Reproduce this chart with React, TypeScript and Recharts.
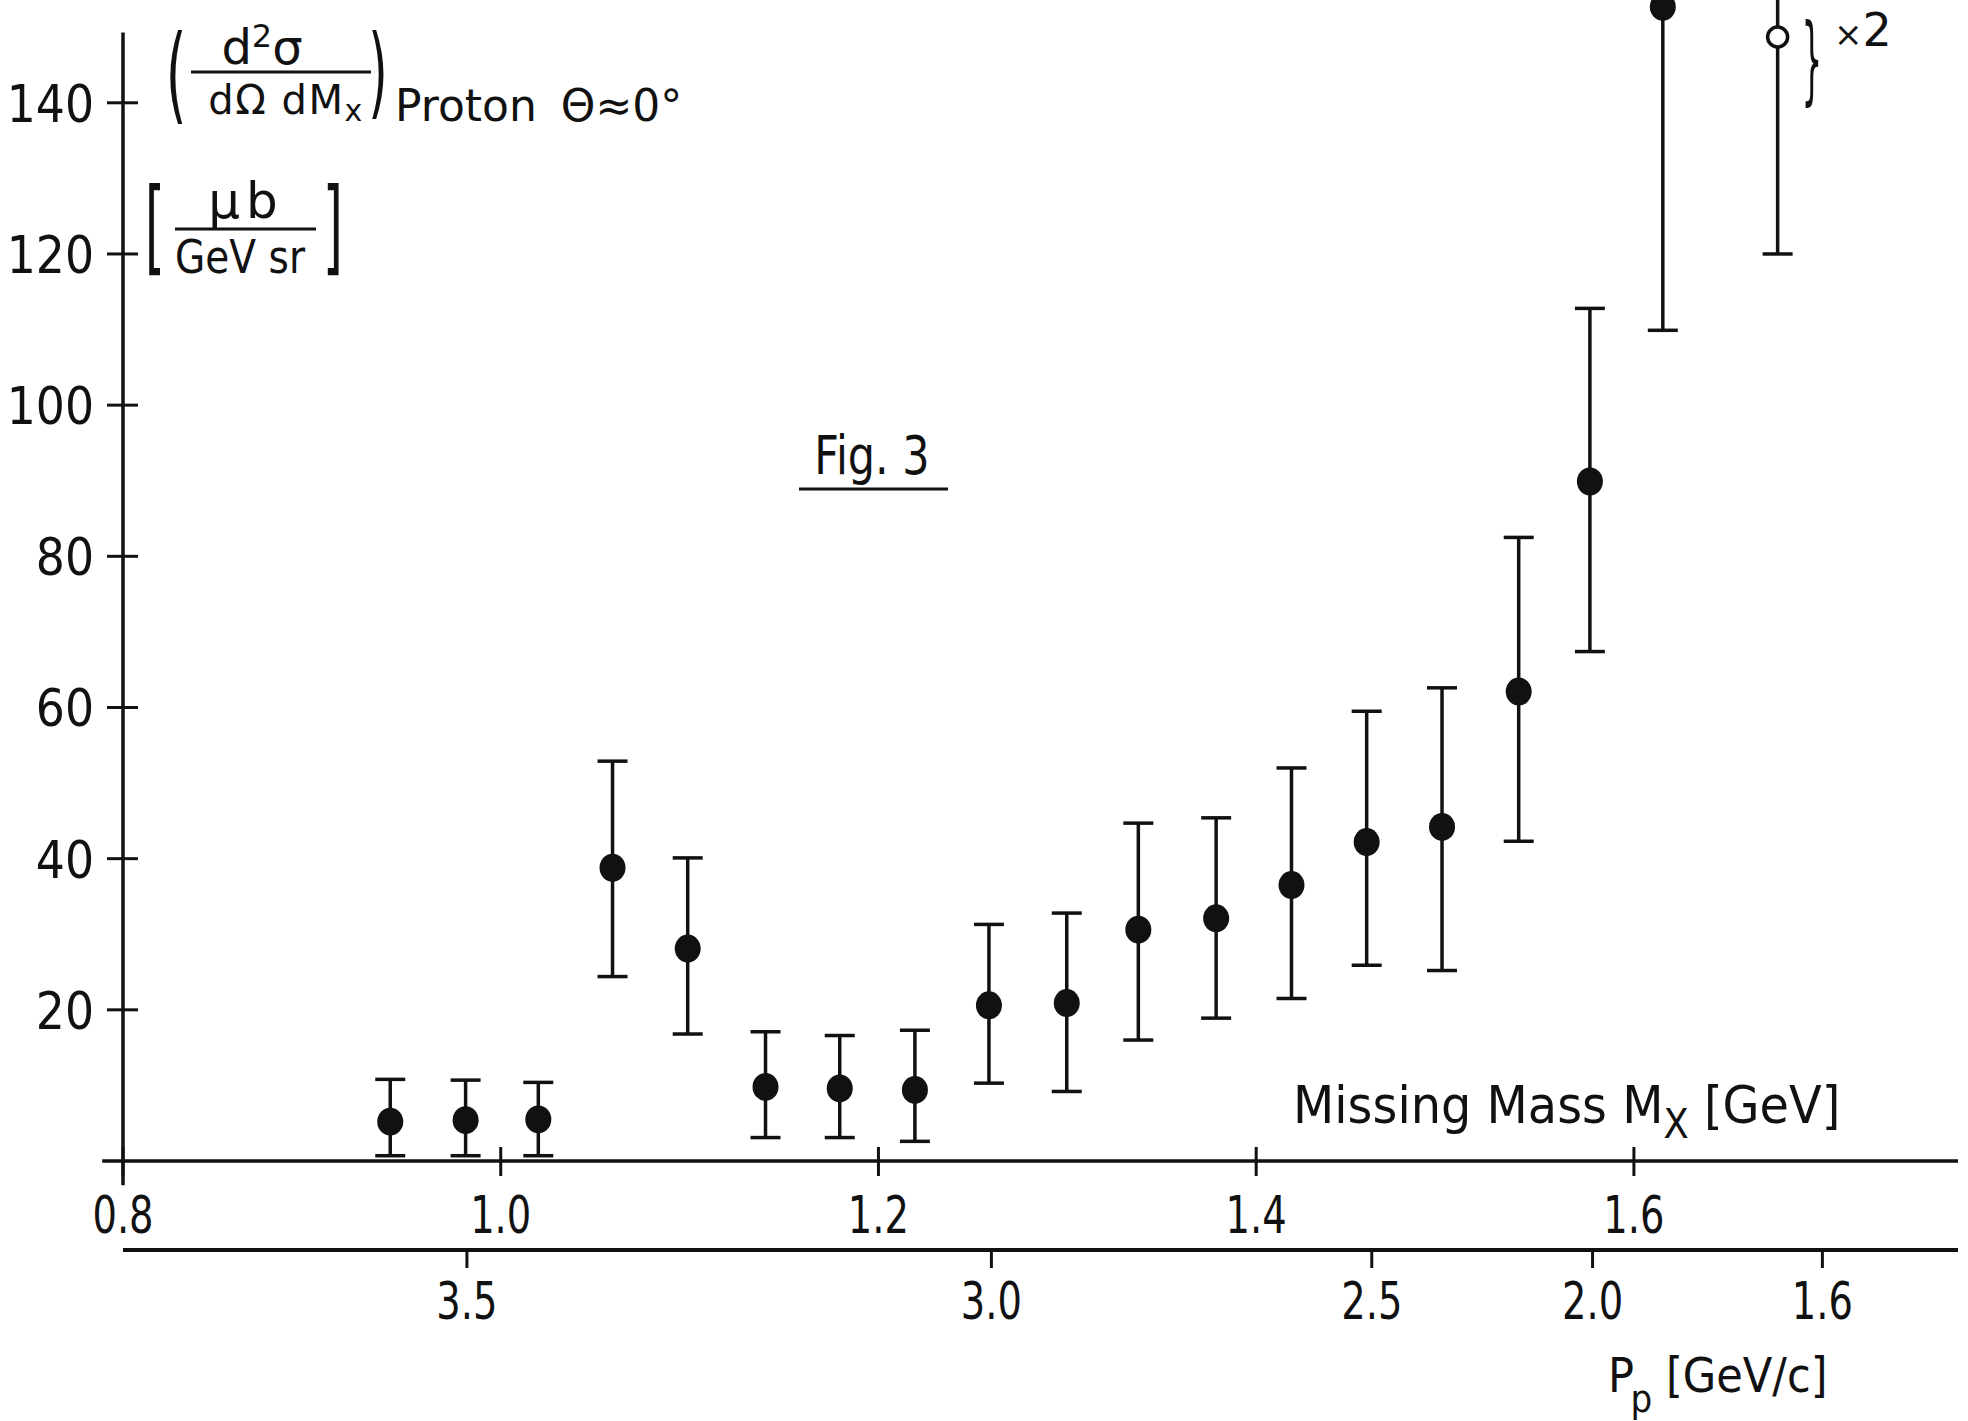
import React from 'react';
import { ScatterChart, Scatter, XAxis, YAxis, ErrorBar, ReferenceLine, Customized } from 'recharts';

// ---- data ----
// Missing mass M_X [GeV] of the filled points
const MX = [0.9415, 0.9814, 1.0199, 1.0592, 1.099, 1.1402, 1.1795, 1.2193, 1.2585, 1.2997, 1.3376, 1.3788, 1.4187, 1.4585, 1.4984, 1.539, 1.5767, 1.6153];
// d2sigma/dOmega dMx [mub / GeV sr]
const SIGMA = [5.2, 5.4, 5.5, 38.8, 28.1, 9.8, 9.6, 9.4, 20.6, 20.9, 30.6, 32.1, 36.5, 42.2, 44.2, 62.1, 89.9, 152.7];
const SIGMA_LO = [0.7, 0.7, 0.7, 24.4, 16.8, 3.1, 3.1, 2.6, 10.3, 9.2, 16.0, 18.9, 21.5, 25.9, 25.2, 42.3, 67.4, 109.9];
const SIGMA_HI = [10.8, 10.7, 10.4, 52.9, 40.1, 17.1, 16.6, 17.3, 31.3, 32.8, 44.7, 45.4, 52.0, 59.5, 62.6, 82.5, 112.8, 195.5];

// open point (scaled x2)
const MX_OPEN = [1.6761];
const SIGMA_OPEN = [148.7];
const SIGMA_OPEN_LO = [120.0];
const SIGMA_OPEN_HI = [177.4];

const MX_TICKS = [0.8, 1.0, 1.2, 1.4, 1.6];
const Y_TICKS = [20, 40, 60, 80, 100, 120, 140];
const PP_LABELS = ['3.5', '3.0', '2.5', '2.0', '1.6'];
const PP_TICK_MX = [0.9821, 1.2598, 1.4612, 1.5781, 1.6998];

const MX_DOMAIN: [number, number] = [0.8, 1.7716];
const Y_DOMAIN: [number, number] = [0, 153.6];

const filled = MX.map((mx, i) => ({ mx, y: SIGMA[i], err: [SIGMA[i] - SIGMA_LO[i], SIGMA_HI[i] - SIGMA[i]] }));
const open = MX_OPEN.map((mx, i) => ({ mx, y: SIGMA_OPEN[i], err: [SIGMA_OPEN[i] - SIGMA_OPEN_LO[i], SIGMA_OPEN_HI[i] - SIGMA_OPEN[i]] }));

const INK = '#111';
const FONT = "'DejaVu Sans', sans-serif";

const MxTick = (props: any) => {
  const { x, y, payload } = props;
  return (
    <g>
      <line x1={x} x2={x} y1={y - 14} y2={y + 15} stroke={INK} strokeWidth={3} />
      <text transform={`translate(${x},${y + 72}) scale(0.74,1)`} textAnchor="middle" fontSize={52} fontFamily={FONT} fill={INK}>
        {Number(payload.value).toFixed(1)}
      </text>
    </g>
  );
};

const PpTick = (props: any) => {
  const { x, y, payload } = props;
  const idx = PP_TICK_MX.indexOf(payload.value);
  return (
    <text transform={`translate(${x},${y + 51}) scale(0.74,1)`} textAnchor="middle" fontSize={52} fontFamily={FONT} fill={INK}>
      {idx >= 0 ? PP_LABELS[idx] : ''}
    </text>
  );
};

const YTick = (props: any) => {
  const { x, y, payload } = props;
  return (
    <g>
      <line x1={x - 16} x2={x + 15} y1={y} y2={y} stroke={INK} strokeWidth={3} />
      <text transform={`translate(${x - 29},${y + 19}) scale(0.88,1)`} textAnchor="end" fontSize={52} fontFamily={FONT} fill={INK}>
        {payload.value}
      </text>
    </g>
  );
};

const FilledDot = (p: any) => <ellipse cx={p.cx} cy={p.cy} rx={13} ry={14} fill={INK} />;
const OpenDot = (p: any) => <circle cx={p.cx} cy={p.cy} r={10} fill="#fff" stroke={INK} strokeWidth={3.5} />;

const Annotations = () => (
  <g fontFamily={FONT} fill={INK}>
    {/* cross-section label */}
    <text transform="translate(176,110) scale(0.5,1)" textAnchor="middle" fontSize={106}>(</text>
    <text x={262} y={64} textAnchor="middle" fontSize={48}>
      d<tspan dy={-17} fontSize={32}>2</tspan><tspan dy={17} fontSize={48}>σ</tspan>
    </text>
    <line x1={191} x2={371} y1={72} y2={72} stroke={INK} strokeWidth={3} />
    <text x={286} y={114} textAnchor="middle" fontSize={40} letterSpacing={1.5}>
      dΩ dM<tspan dy={7} fontSize={30}>x</tspan>
    </text>
    <text transform="translate(378,106) scale(0.5,1)" textAnchor="middle" fontSize={100}>)</text>
    <text x={395} y={121} fontSize={44}>
      Proton<tspan dx={10}> Θ≈0°</tspan>
    </text>

    <text transform="translate(155,262) scale(0.5,1)" textAnchor="middle" fontSize={104}>[</text>
    <text x={246} y={218} textAnchor="middle" fontSize={50} letterSpacing={6}>μb</text>
    <line x1={175} x2={316} y1={229} y2={229} stroke={INK} strokeWidth={3} />
    <text transform="translate(240,273) scale(0.85,1)" textAnchor="middle" fontSize={46}>GeV sr</text>
    <text transform="translate(333,262) scale(0.5,1)" textAnchor="middle" fontSize={104}>]</text>

    {/* figure label */}
    <text transform="translate(872,474) scale(0.81,1)" textAnchor="middle" fontSize={53}>Fig. 3</text>
    <line x1={799} x2={948} y1={489} y2={489} stroke={INK} strokeWidth={3} />

    {/* axis titles */}
    <text transform="translate(1293,1123) scale(0.92,1)" fontSize={52}>
      Missing Mass M<tspan dy={15} fontSize={40}>X</tspan><tspan dy={-15} fontSize={52}> [GeV]</tspan>
    </text>
    <text transform="translate(1608,1392) scale(0.9,1)" fontSize={48}>
      P<tspan dx={-4} dy={20} fontSize={38}>p</tspan><tspan dy={-20} fontSize={48}> [GeV/c]</tspan>
    </text>

    {/* x2 marker */}
    <text transform="translate(1812,92) scale(0.34,1)" textAnchor="middle" fontSize={96}>{'}'}</text>
    <text x={1834} y={46} fontSize={46}>
      <tspan fontSize={34}>×</tspan>2
    </text>
  </g>
);

export default function App() {
  return (
    <div style={{ position: 'absolute', left: 0, top: 0, width: 1968, height: 1421, background: '#fff' }}>
      <ScatterChart width={1968} height={1421} margin={{ top: 0, right: 10, bottom: 71, left: 0 }}>
        <XAxis
          xAxisId="mx"
          type="number"
          dataKey="mx"
          domain={MX_DOMAIN}
          allowDataOverflow
          ticks={MX_TICKS}
          interval={0}
          height={89}
          axisLine={false}
          tickLine={false}
          tickSize={0}
          tickMargin={0}
          tick={MxTick}
        />
        <XAxis
          xAxisId="pp"
          type="number"
          dataKey="mx"
          domain={MX_DOMAIN}
          allowDataOverflow
          ticks={PP_TICK_MX}
          interval={0}
          height={100}
          axisLine={{ stroke: INK, strokeWidth: 4 }}
          tickLine={{ stroke: INK, strokeWidth: 3 }}
          tickSize={18}
          tickMargin={0}
          tick={PpTick}
        />
        <YAxis
          type="number"
          dataKey="y"
          domain={Y_DOMAIN}
          allowDataOverflow
          ticks={Y_TICKS}
          interval={0}
          width={123}
          axisLine={false}
          tickLine={false}
          tickSize={0}
          tickMargin={0}
          tick={YTick}
        />
        <ReferenceLine xAxisId="mx" segment={[{ x: 0.789, y: 0 }, { x: MX_DOMAIN[1], y: 0 }]} ifOverflow="visible" stroke={INK} strokeWidth={3.5} />
        <ReferenceLine xAxisId="mx" segment={[{ x: 0.8, y: -3.2 }, { x: 0.8, y: 149.3 }]} ifOverflow="visible" stroke={INK} strokeWidth={3.5} />
        <Scatter xAxisId="mx" data={filled} dataKey="y" shape={FilledDot} isAnimationActive={false}>
          <ErrorBar dataKey="err" direction="y" width={15} stroke={INK} strokeWidth={3.5} isAnimationActive={false} />
        </Scatter>
        <Scatter xAxisId="mx" data={open} dataKey="y" shape={OpenDot} isAnimationActive={false}>
          <ErrorBar dataKey="err" direction="y" width={15} stroke={INK} strokeWidth={3.5} isAnimationActive={false} />
        </Scatter>
        <Customized component={Annotations} />
      </ScatterChart>
    </div>
  );
}
